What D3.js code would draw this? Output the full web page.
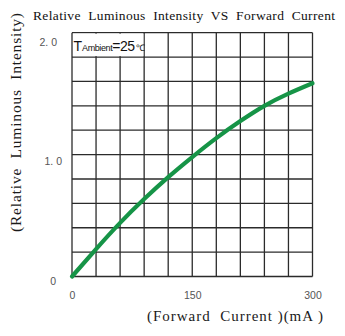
<!DOCTYPE html>
<html>
<head>
<meta charset="utf-8">
<script src="https://cdn.jsdelivr.net/npm/d3@7"></script>
<style>
  html, body { margin: 0; padding: 0; background: #fff; }
  svg { display: block; }
</style>
</head>
<body>
<div id="chart"></div>
<script>
// Forward current (mA) and relative luminous intensity
const currentMA = [0, 30, 60, 90, 120, 150, 180, 210, 240, 270, 300];
const relIntensity = [0, 0.225, 0.44, 0.635, 0.815, 0.98, 1.135, 1.275, 1.40, 1.50, 1.585];

const xTickValues = [0, 150, 300];
const xTickLabels = ["0", "150", "300"];
const yTickValues = [0, 1, 2];
const yTickLabels = ["0", "1. 0", "2. 0"];

const titleText = "Relative  Luminous  Intensity  VS  Forward  Current";
const xAxisTitle = "(Forward  Current )(mA )";
const yAxisTitle = "(Relative  Luminous  Intensity)";

const W = 345, H = 336;
const plot = { left: 72, right: 312.5, top: 32.7, bottom: 276.5 };

const svg = d3.select("#chart").append("svg")
  .attr("width", W).attr("height", H);

const x = d3.scaleLinear().domain([0, 300]).range([plot.left, plot.right]);
const y = d3.scaleLinear().domain([0, 2]).range([plot.bottom, plot.top]);

const gridColor = "#2b2b2b";

// 10 x 10 grid
const gx = svg.append("g");
gx.selectAll("line.v").data(d3.range(0, 301, 30)).join("line")
  .attr("class", "v")
  .attr("x1", d => x(d)).attr("x2", d => x(d))
  .attr("y1", y(0)).attr("y2", y(2))
  .attr("stroke", gridColor).attr("stroke-width", 1.3);
gx.selectAll("line.h").data(d3.range(0, 11).map(i => i * 0.2)).join("line")
  .attr("class", "h")
  .attr("x1", x(0)).attr("x2", x(300))
  .attr("y1", d => y(d)).attr("y2", d => y(d))
  .attr("stroke", gridColor).attr("stroke-width", 1.3);

// ambient temperature note in the top-left cell block
svg.append("rect")
  .attr("x", x(0) + 1).attr("y", y(2) + 1)
  .attr("width", x(90) - x(0) - 1.8).attr("height", y(1.8) - y(2) - 2)
  .attr("fill", "#fff");
const note = svg.append("text")
  .attr("x", x(0) + 1.5).attr("y", y(2) + 18)
  .attr("font-family", "Liberation Sans, Arial, sans-serif")
  .attr("fill", "#111");
note.append("tspan").attr("font-size", 14).text("T");
note.append("tspan").attr("font-size", 9).attr("letter-spacing", -0.4).text("Ambient");
note.append("tspan").attr("font-size", 14).attr("letter-spacing", -0.5).text("=25");
note.append("tspan").attr("font-size", 9).attr("dx", 1).text("℃");

// curve
const line = d3.line()
  .x((d, i) => x(currentMA[i]))
  .y(d => y(d))
  .curve(d3.curveNatural);
svg.append("path")
  .attr("d", line(relIntensity))
  .attr("fill", "none")
  .attr("stroke", "#169447")
  .attr("stroke-width", 4.2)
  .attr("stroke-linecap", "round");

// x axis tick labels
const xAxis = d3.axisBottom(x).tickValues(xTickValues)
  .tickFormat((d, i) => xTickLabels[i]).tickSize(0).tickPadding(0);
const xg = svg.append("g").attr("transform", `translate(0,${plot.bottom})`).call(xAxis);
xg.select(".domain").remove();
xg.selectAll("text")
  .attr("dy", 0).attr("y", 22)
  .attr("font-family", "Liberation Sans, Arial, sans-serif")
  .attr("font-size", 10.5).attr("fill", "#555");

// y axis tick labels
const yAxis = d3.axisLeft(y).tickValues(yTickValues)
  .tickFormat((d, i) => yTickLabels[i]).tickSize(0).tickPadding(0);
const yg = svg.append("g").attr("transform", `translate(${plot.left - 13},0)`).call(yAxis);
yg.select(".domain").remove();
yg.selectAll("text")
  .attr("dy", "0.32em")
  .attr("transform", d => `translate(${d === 0 ? -3 : (d === 2 ? -2 : 3)},${d === 2 ? 9 : (d === 1 ? 6.5 : 5)})`)
  .attr("font-family", "Liberation Sans, Arial, sans-serif")
  .attr("font-size", 10.5).attr("fill", "#555");

// titles
svg.append("text")
  .attr("x", 33).attr("y", 19.5)
  .attr("font-family", "Liberation Serif, Times New Roman, serif")
  .attr("font-size", 13.5).attr("fill", "#111")
  .attr("textLength", 302).attr("lengthAdjust", "spacing")
  .attr("xml:space", "preserve")
  .text(titleText);

svg.append("text")
  .attr("x", 147).attr("y", 321)
  .attr("font-family", "Liberation Serif, Times New Roman, serif")
  .attr("font-size", 15).attr("fill", "#1a1a1a")
  .attr("textLength", 176).attr("lengthAdjust", "spacing")
  .attr("xml:space", "preserve")
  .text(xAxisTitle);

svg.append("text")
  .attr("transform", "translate(21,232) rotate(-90)")
  .attr("font-family", "Liberation Serif, Times New Roman, serif")
  .attr("font-size", 15.5).attr("fill", "#1a1a1a")
  .attr("textLength", 219).attr("lengthAdjust", "spacing")
  .attr("xml:space", "preserve")
  .text(yAxisTitle);
</script>
</body>
</html>
